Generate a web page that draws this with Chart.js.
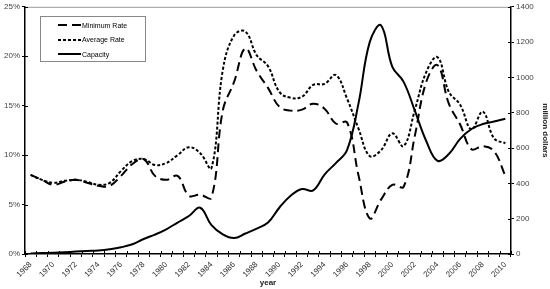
<!DOCTYPE html>
<html>
<head>
<meta charset="utf-8">
<script src="https://cdn.jsdelivr.net/npm/chart.js@4/dist/chart.umd.min.js"></script>
<style>
  html, body { margin: 0; padding: 0; background: #fff; }
  #wrap { position: relative; width: 550px; height: 289px; }
  #legend {
    position: absolute; left: 40px; top: 16px; width: 104px; height: 44px;
    border: 1px solid #888; background: #fff;
    font-family: "Liberation Sans", Arial, sans-serif; font-size: 7px; color: #000;
    filter: grayscale(1);
  }
  #legend .row { position: absolute; left: 17px; height: 10px; display: flex; align-items: center; }
  #legend svg { display: block; margin-right: 1px; }
</style>
</head>
<body>
<div id="wrap">
  <canvas id="chart" width="550" height="289"></canvas>
  <div id="legend"></div>
</div>
<script>
const years = [];
for (let y = 1968; y <= 2010; y++) years.push(String(y));

const minimum_rate = [
  8.0, 7.5, 7.0, 7.3, 7.5, 7.2, 6.9, 6.9, 7.9, 9.1,
  9.6, 7.9, 7.5, 7.9, 5.9, 6.0, 5.7, 14.5, 17.4, 20.8,
  18.5, 16.8, 14.9, 14.5, 14.6, 15.2, 14.7, 13.2, 13.3, 8.0,
  3.6, 5.5, 7.0, 6.8, 12.0, 17.4, 19.1, 15.2, 13.1, 10.6,
  10.9, 10.4, 7.9
];
const average_rate = [
  8.0, 7.5, 7.2, 7.4, 7.5, 7.3, 7.0, 7.2, 8.4, 9.4,
  9.6, 9.0, 9.2, 10.0, 10.8, 10.2, 8.7, 18.6, 22.1, 22.5,
  20.1, 19.0, 16.4, 15.8, 15.9, 17.1, 17.2, 18.1, 15.7, 12.7,
  9.9, 10.5, 12.2, 10.9, 14.6, 18.4, 19.9, 16.4, 15.1, 12.6,
  14.4, 11.7, 11.2
];
const capacity = [
  3, 5, 7, 10, 14, 17, 20, 27, 38, 55,
  85, 110, 140, 178, 215, 262, 163, 111, 90, 116,
  144, 178, 262, 330, 368, 360, 450, 515, 590, 850,
  1200, 1295, 1060, 975, 810, 640, 528, 566, 652, 708,
  736, 750, 766
];
const rate_ticks = [0, 5, 10, 15, 20, 25];
const money_ticks = [0, 200, 400, 600, 800, 1000, 1200, 1400];

const series = [
  { label: 'Minimum Rate', data: minimum_rate, dash: [9, 5], axis: 'y' },
  { label: 'Average Rate', data: average_rate, dash: [3, 2], axis: 'y' },
  { label: 'Capacity', data: capacity, dash: [], axis: 'y1' }
];

const font_name = '"Liberation Sans", Arial, sans-serif';

// little tick marks that cross the axes, like the spreadsheet chart
const cross_ticks = {
  id: 'cross_ticks',
  afterDraw(chart) {
    const { ctx, chartArea, scales } = chart;
    ctx.save();
    ctx.lineWidth = 1;
    // top border
    ctx.strokeStyle = '#999';
    ctx.beginPath();
    ctx.moveTo(chartArea.left, chartArea.top + 0.5);
    ctx.lineTo(chartArea.right, chartArea.top + 0.5);
    ctx.stroke();
    ctx.strokeStyle = '#000';
    const xs = scales.x;
    const step = xs.getPixelForValue(1) - xs.getPixelForValue(0);
    ctx.beginPath();
    for (let i = 0; i <= years.length; i++) {
      const px = Math.round(xs.getPixelForValue(i) - step / 2) + 0.5;
      ctx.moveTo(px, chartArea.bottom);
      ctx.lineTo(px, chartArea.bottom - 3);
    }
    rate_ticks.forEach(v => {
      const py = Math.round(scales.y.getPixelForValue(v)) + 0.5;
      ctx.moveTo(chartArea.left, py);
      ctx.lineTo(chartArea.left + 3, py);
    });
    money_ticks.forEach(v => {
      const py = Math.round(scales.y1.getPixelForValue(v)) + 0.5;
      ctx.moveTo(chartArea.right, py);
      ctx.lineTo(chartArea.right - 3, py);
    });
    ctx.stroke();
    ctx.restore();
  }
};

const axis_grid = {
  display: true,
  drawOnChartArea: false,
  drawTicks: true,
  tickLength: 3,
  color: '#000'
};
const axis_border = { display: true, color: '#000', width: 1.5 };

new Chart(document.getElementById('chart'), {
  type: 'line',
  data: {
    labels: years,
    datasets: series.map(s => ({
      label: s.label,
      data: s.data,
      yAxisID: s.axis,
      borderColor: '#000',
      backgroundColor: '#000',
      borderWidth: 2,
      borderDash: s.dash,
      pointRadius: 0,
      tension: 0.4,
      fill: false
    }))
  },
  options: {
    responsive: false,
    animation: false,
    layout: { padding: { top: 5, left: 0, right: 0, bottom: 0 } },
    plugins: {
      legend: { display: false },
      tooltip: { enabled: false }
    },
    scales: {
      x: {
        type: 'category',
        offset: true,
        grid: { ...axis_grid, offset: true },
        border: axis_border,
        ticks: {
          autoSkip: false,
          maxRotation: 45,
          minRotation: 45,
          padding: 3,
          color: '#333',
          font: { family: font_name, size: 8 },
          callback: (val, i) => (i % 2 === 0 ? years[i] : '')
        },
        title: {
          display: true,
          text: 'year',
          color: '#222',
          padding: { top: 0, bottom: 1 },
          font: { family: font_name, size: 8, weight: 'bold' }
        },
        afterFit: scale => { scale.height = 35; }
      },
      y: {
        position: 'left',
        min: 0,
        max: 25,
        grid: axis_grid,
        border: axis_border,
        afterBuildTicks: scale => { scale.ticks = rate_ticks.map(v => ({ value: v })); },
        ticks: {
          padding: 2,
          color: '#444',
          font: { family: font_name, size: 8 },
          callback: v => v + '%'
        },
        afterFit: scale => { scale.width = 25; }
      },
      y1: {
        position: 'right',
        min: 0,
        max: 1400,
        grid: axis_grid,
        border: axis_border,
        afterBuildTicks: scale => { scale.ticks = money_ticks.map(v => ({ value: v })); },
        ticks: {
          padding: 2,
          color: '#444',
          font: { family: font_name, size: 8 },
          callback: v => String(v)
        },
        title: {
          display: true,
          text: 'million dollars',
          color: '#222',
          padding: { top: 0, bottom: 3 },
          font: { family: font_name, size: 8, weight: 'bold' }
        },
        afterFit: scale => { scale.width = 39; }
      }
    }
  },
  plugins: [cross_ticks]
});

// legend box drawn in HTML
const legend = document.getElementById('legend');
series.forEach((s, i) => {
  const row = document.createElement('div');
  row.className = 'row';
  row.style.top = (3 + i * 14.5) + 'px';
  const dash = s.dash.length ? s.dash.join(',') : 'none';
  row.innerHTML =
    '<svg width="23" height="4"><line x1="0" y1="2" x2="23" y2="2" stroke="#000" stroke-width="2" stroke-dasharray="' +
    dash + '"/></svg><span>' + s.label + '</span>';
  legend.appendChild(row);
});
</script>
</body>
</html>
